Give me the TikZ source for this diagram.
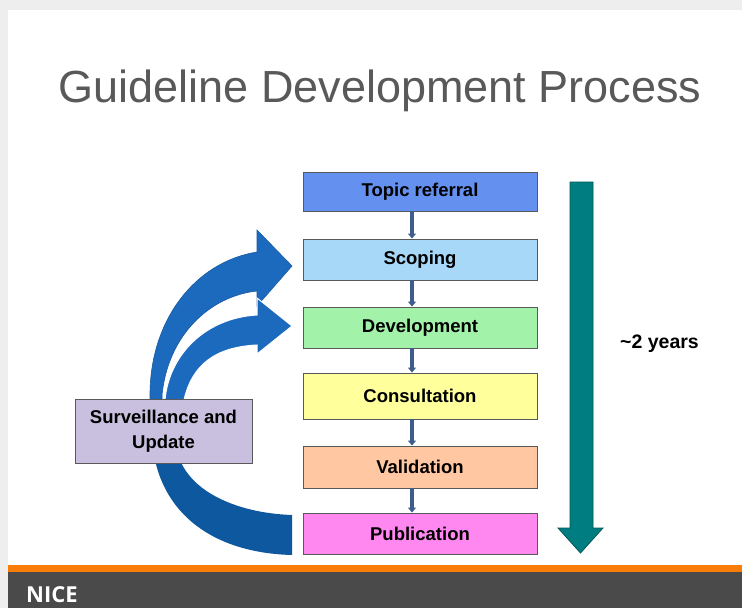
\documentclass[tikz,border=0pt]{standalone}
\usepackage{fontspec}
\setmainfont{Liberation Sans}
\newfontfamily\nicefont{Open Sans}
\usetikzlibrary{arrows.meta}
\definecolor{frame}{RGB}{238,238,238}
\definecolor{titlegray}{RGB}{89,89,89}
\definecolor{footorange}{RGB}{250,125,10}
\definecolor{footgray}{RGB}{74,74,74}
\definecolor{cTopic}{RGB}{100,145,240}
\definecolor{cScope}{RGB}{168,216,248}
\definecolor{cDev}{RGB}{162,242,170}
\definecolor{cCons}{RGB}{255,255,155}
\definecolor{cVal}{RGB}{255,200,162}
\definecolor{cPub}{RGB}{255,136,240}
\definecolor{cSurv}{RGB}{200,192,222}
\definecolor{linkblue}{RGB}{62,92,140}
\definecolor{curveblue}{RGB}{28,106,190}
\definecolor{curvedark}{RGB}{14,88,160}
\definecolor{tealarrow}{RGB}{0,125,128}
\tikzset{
  stepbox/.style={draw=black!65, line width=0.9pt, minimum width=234pt, inner sep=0pt,
     font=\fontsize{18.5}{22}\selectfont\bfseries, text=black},
  linkarrow/.style={draw=linkblue, line width=3.5pt, -{Triangle[width=8pt,length=5pt]}},
  curvearrow/.style={fill=curveblue, draw=curveblue!85!black, line width=0.6pt},
}
\begin{document}
\begin{tikzpicture}[x=1pt,y=-1pt]
\useasboundingbox (0,0) rectangle (742,608);
% frame and slide
\fill[frame] (0,0) rectangle (742,608);
\fill[white] (8,10) rectangle (742,565);
\fill[footorange] (8,565) rectangle (742,572);
\fill[footgray] (8,572) rectangle (742,608);
\node[anchor=base west, text=white, font=\nicefont\bfseries\fontsize{22}{24}\selectfont, inner sep=0pt] (nice) at (26,602) {NICE};
% title
\node[anchor=base, text=titlegray, font=\fontsize{45}{50}\selectfont, inner sep=0pt] (title) at (380,102) {Guideline Development Process};
% curved feedback arrows
\fill[curvedark] (150,400) -- (152,440) .. controls (158,515) and (215,553) .. (292,555)
   -- (292,515) .. controls (235,513) and (185,490) .. (177,450) -- (176,400) -- cycle;
\path[curvearrow] (150,420) -- (150,395) .. controls (150,320) and (195,262) .. (257,252)
   -- (257,230) -- (292,266) -- (257,306) -- (257,291)
   .. controls (210,296) and (168,335) .. (162,395) -- (162,420) -- cycle;
\path[curvearrow, draw=white, line width=1pt] (165,420) -- (165,400) .. controls (169,355) and (205,318) .. (257,315)
   -- (257,298) -- (292,326) -- (257,354) -- (257,345)
   .. controls (215,347) and (192,365) .. (184,400) -- (184,420) -- cycle;
% process boxes
\node[stepbox, fill=cTopic, minimum height=39pt] (topic) at (420,191.5) {Topic referral};
\node[stepbox, fill=cScope, minimum height=41pt] (scope) at (420,259.5) {Scoping};
\node[stepbox, fill=cDev, minimum height=41pt] (dev) at (420,327.5) {Development};
\node[stepbox, fill=cCons, minimum height=46pt] (cons) at (420,396) {Consultation};
\node[stepbox, fill=cVal, minimum height=42pt] (val) at (420,467) {Validation};
\node[stepbox, fill=cPub, minimum height=41pt] (pub) at (420,533.5) {Publication};
\node[stepbox, fill=cSurv, minimum width=177pt, minimum height=64pt, align=center,
      font=\fontsize{18.5}{25}\selectfont\bfseries] (surv) at (163.5,431) {Surveillance and\\Update};
% connectors
\draw[linkarrow] ([xshift=-8pt]topic.south) -- ([xshift=-8pt]scope.north);
\draw[linkarrow] ([xshift=-8pt]scope.south) -- ([xshift=-8pt]dev.north);
\draw[linkarrow] ([xshift=-8pt]dev.south) -- ([xshift=-8pt]cons.north);
\draw[linkarrow] ([xshift=-8pt]cons.south) -- ([xshift=-8pt]val.north);
\draw[linkarrow] ([xshift=-8pt]val.south) -- ([xshift=-8pt]pub.north);
% duration arrow
\filldraw[fill=tealarrow, draw=tealarrow!70!black, line width=0.8pt]
  (570,182) -- (593,182) -- (593,528) -- (603,528) -- (580.5,553) -- (558,528) -- (570,528) -- cycle;
\node[anchor=base west, inner sep=0pt, font=\fontsize{19.5}{22}\selectfont\bfseries] (years) at (620,348) {\textasciitilde 2 years};
\end{tikzpicture}
\end{document}
